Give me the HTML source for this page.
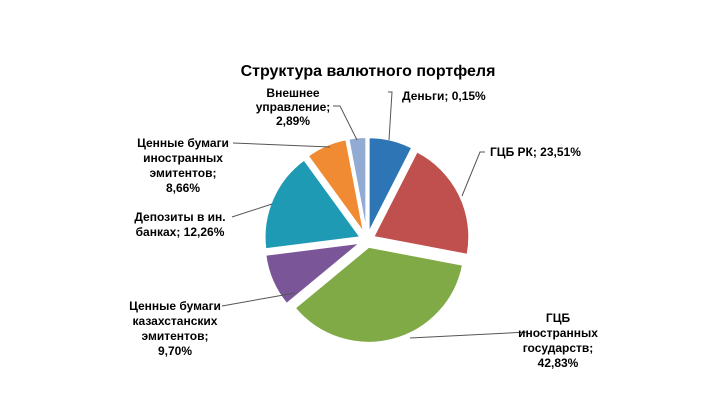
<!DOCTYPE html>
<html><head><meta charset="utf-8"><style>
body{margin:0;background:#fff;}
svg text{font-family:"Liberation Sans",sans-serif;font-weight:bold;font-size:12px;fill:#000;}
</style></head><body>
<svg width="720" height="414" viewBox="0 0 720 414">
<rect width="720" height="414" fill="#fff"/>
<text x="368" y="76" text-anchor="middle" style="font-size:16px">Структура  валютного  портфеля</text>
<g id="slices"></g>
<g id="leaders" stroke="#555" stroke-width="1" fill="none">
<polyline points="388,92 392,92 389,140"/>
<polyline points="485,152 480,152 462,196"/>
<polyline points="528,332 410,338"/>
<polyline points="222,306 295,293"/>
<polyline points="232,217 272,204"/>
<polyline points="233,143 330,147"/>
<polyline points="333,106 340,106 357,140"/>
</g>
<g><text x="293" y="97" text-anchor="middle">Внешнее</text><text x="293" y="111" text-anchor="middle">управление;</text><text x="293" y="125" text-anchor="middle">2,89%</text></g>
<text x="402" y="100">Деньги; 0,15%</text>
<text x="490" y="156">ГЦБ РК; 23,51%</text>
<g><text x="183" y="147" text-anchor="middle">Ценные бумаги</text><text x="183" y="162" text-anchor="middle">иностранных</text><text x="183" y="177" text-anchor="middle">эмитентов;</text><text x="183" y="192" text-anchor="middle">8,66%</text></g>
<g><text x="180" y="221" text-anchor="middle">Депозиты в ин.</text><text x="180" y="236" text-anchor="middle">банках; 12,26%</text></g>
<g><text x="175" y="310" text-anchor="middle">Ценные бумаги</text><text x="175" y="325" text-anchor="middle">казахстанских</text><text x="175" y="340" text-anchor="middle">эмитентов;</text><text x="175" y="355" text-anchor="middle">9,70%</text></g>
<g><text x="558" y="322" text-anchor="middle">ГЦБ</text><text x="558" y="337" text-anchor="middle">иностранных</text><text x="558" y="352" text-anchor="middle">государств;</text><text x="558" y="367" text-anchor="middle">42,83%</text></g>
</svg>
<script>
const categories = ["Деньги","ГЦБ РК","ГЦБ иностранных государств","Ценные бумаги казахстанских эмитентов","Депозиты в ин. банках","Ценные бумаги иностранных эмитентов","Внешнее управление"];
const values = [7.5, 20.5, 36, 9, 17, 7, 3];
const colors = ["#2e75b6","#c0504d","#7faa46","#7a5699","#1f9ab5","#f08a33","#91abd3"];
const names = ["slice-money","slice-gcb-rk","slice-gcb-foreign","slice-kz-securities","slice-deposits","slice-foreign-securities","slice-external"];
const cx=367, cy=240, r=96, explode=7;
const g=document.getElementById('slices');
const total=values.reduce((a,b)=>a+b,0);
let a0=0;
function pt(a,rad,ox,oy){return [ox+rad*Math.sin(a), oy-rad*Math.cos(a)];}
values.forEach((v,i)=>{
  const a1=a0+v/total*2*Math.PI, mid=(a0+a1)/2;
  const ox=cx+explode*Math.sin(mid), oy=cy-explode*Math.cos(mid);
  const p0=pt(a0,r,ox,oy), p1=pt(a1,r,ox,oy);
  const large=(a1-a0)>Math.PI?1:0;
  const p=document.createElementNS('http://www.w3.org/2000/svg','path');
  p.setAttribute('d',`M${ox},${oy}L${p0[0]},${p0[1]}A${r},${r} 0 ${large} 1 ${p1[0]},${p1[1]}Z`);
  p.setAttribute('fill',colors[i]);
  p.setAttribute('stroke','#fff');
  p.setAttribute('stroke-width','2');
  
  
  g.appendChild(p);
  a0=a1;
});
</script>
</body></html>
